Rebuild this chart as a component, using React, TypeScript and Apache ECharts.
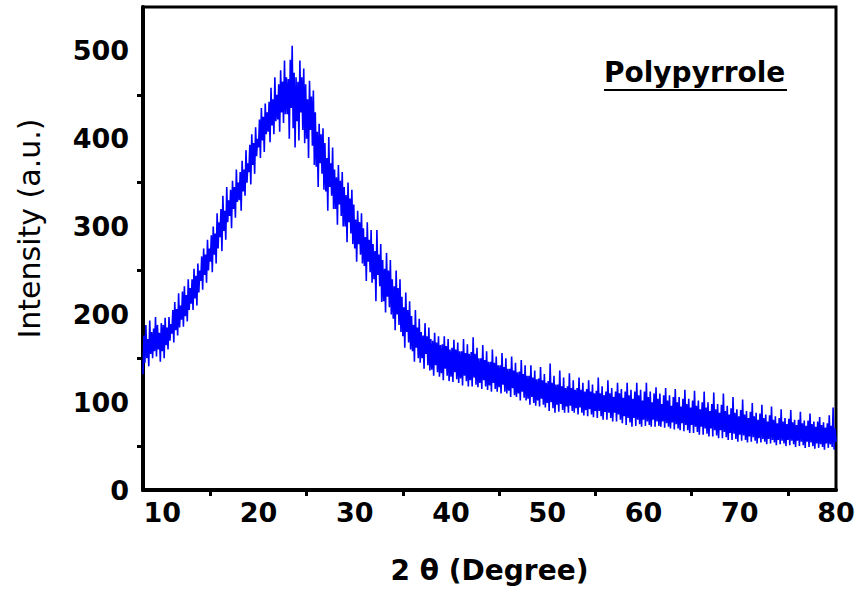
import React, { useEffect, useRef } from "react";
import * as echarts from "echarts";

// 2θ sampling grid (degrees)
const TWO_THETA_START = 8;
const TWO_THETA_STEP = 0.1;

// Intensity (a.u.), one row per degree (10 samples each)
const intensity = [
  132, 176, 145, 188, 150, 172, 141, 193, 155, 180,
  150, 184, 158, 197, 152, 188, 160, 179, 146, 190,
  158, 188, 150, 196, 165, 185, 160, 197, 170, 189,
  178, 205, 168, 214, 182, 206, 176, 224, 185, 210,
  194, 226, 186, 232, 198, 222, 192, 240, 205, 230,
  212, 240, 205, 252, 218, 244, 210, 258, 225, 250,
  238, 266, 228, 275, 245, 268, 236, 285, 250, 275,
  260, 290, 248, 300, 268, 292, 258, 315, 275, 305,
  288, 320, 272, 335, 295, 318, 285, 345, 305, 330,
  312, 342, 298, 352, 320, 345, 310, 365, 328, 350,
  330, 362, 318, 375, 340, 365, 335, 387, 350, 372,
  362, 393, 348, 405, 370, 395, 360, 413, 380, 400,
  390, 422, 378, 435, 398, 425, 385, 440, 405, 430,
  408, 442, 396, 458, 415, 445, 405, 470, 420, 450,
  422, 462, 408, 478, 430, 465, 418, 489, 428, 470,
  428, 468, 400, 490, 435, 506, 412, 475, 390, 470,
  420, 465, 398, 489, 430, 470, 410, 480, 395, 462,
  400, 445, 378, 466, 410, 448, 392, 455, 370, 430,
  368, 408, 345, 417, 372, 405, 360, 412, 342, 395,
  340, 378, 318, 402, 345, 372, 335, 390, 320, 365,
  320, 356, 302, 370, 325, 352, 312, 362, 300, 345,
  300, 336, 282, 350, 305, 332, 292, 342, 280, 325,
  275, 308, 260, 318, 280, 305, 268, 315, 258, 298,
  255, 288, 238, 305, 260, 285, 248, 296, 236, 280,
  240, 272, 215, 296, 245, 268, 232, 280, 214, 262,
  215, 252, 202, 270, 220, 250, 208, 262, 200, 240,
  195, 232, 182, 250, 200, 230, 188, 240, 180, 220,
  175, 208, 162, 225, 180, 205, 168, 215, 160, 198,
  158, 188, 146, 205, 162, 185, 150, 195, 145, 180,
  150, 176, 138, 190, 155, 175, 142, 185, 136, 172,
  137, 170, 130, 179, 142, 168, 134, 175, 129, 165,
  133, 166, 125, 175, 138, 164, 130, 172, 124, 160,
  129, 162, 123, 171, 134, 160, 126, 168, 122, 158,
  127, 158, 119, 172, 130, 156, 124, 166, 118, 155,
  125, 157, 118, 174, 128, 155, 120, 162, 117, 150,
  122, 150, 115, 165, 125, 148, 118, 158, 114, 146,
  119, 146, 112, 160, 122, 145, 115, 152, 112, 142,
  117, 142, 110, 156, 120, 140, 112, 150, 110, 138,
  113, 138, 106, 152, 116, 136, 108, 145, 106, 134,
  110, 135, 102, 148, 112, 132, 105, 142, 102, 130,
  104, 130, 97, 142, 106, 128, 99, 136, 96, 126,
  102, 127, 95, 140, 104, 125, 97, 132, 94, 122,
  99, 124, 90, 144, 100, 122, 93, 130, 88, 120,
  97, 120, 89, 136, 98, 118, 91, 128, 88, 116,
  95, 118, 88, 133, 96, 116, 90, 125, 88, 114,
  93, 116, 86, 128, 94, 114, 88, 122, 85, 112,
  91, 115, 84, 125, 92, 112, 86, 120, 83, 110,
  90, 113, 82, 128, 90, 110, 84, 118, 80, 108,
  89, 112, 80, 125, 88, 110, 82, 116, 78, 106,
  88, 112, 78, 122, 86, 110, 80, 115, 76, 105,
  84, 112, 74, 122, 82, 108, 77, 114, 72, 104,
  82, 112, 73, 122, 80, 108, 75, 114, 72, 102,
  80, 112, 73, 122, 78, 106, 74, 112, 72, 100,
  80, 110, 72, 117, 78, 104, 73, 110, 72, 98,
  78, 108, 71, 116, 76, 102, 72, 108, 70, 96,
  77, 106, 69, 115, 75, 100, 70, 106, 68, 95,
  76, 104, 67, 114, 74, 98, 68, 104, 65, 94,
  74, 102, 65, 113, 72, 96, 66, 102, 63, 92,
  72, 100, 63, 112, 70, 94, 64, 100, 61, 90,
  70, 98, 61, 111, 68, 92, 62, 98, 59, 88,
  68, 97, 59, 110, 66, 90, 60, 96, 57, 86,
  65, 93, 57, 106, 64, 88, 58, 92, 55, 84,
  63, 91, 56, 103, 62, 86, 57, 90, 54, 82,
  61, 89, 55, 99, 60, 84, 56, 88, 53, 80,
  59, 87, 54, 97, 58, 82, 55, 86, 52, 78,
  58, 85, 53, 95, 57, 80, 54, 84, 51, 76,
  57, 82, 52, 92, 56, 78, 53, 82, 50, 75,
  57, 81, 51, 91, 56, 77, 52, 80, 49, 74,
  56, 80, 50, 89, 55, 76, 51, 79, 48, 73,
  55, 79, 49, 87, 54, 75, 50, 78, 47, 72,
  53, 78, 48, 83, 52, 74, 49, 77, 46, 71,
  53, 76, 48, 85, 52, 73, 49, 94, 46, 70,
  55,
];

const xLabelValues = [10, 20, 30, 40, 50, 60, 70, 80];
const xTickValues = [15, 25, 35, 45, 55, 65, 75];
const yLabelValues = [0, 100, 200, 300, 400, 500];
const yTickValues = [50, 150, 250, 350, 450];

const X_MIN = 8;
const X_MAX = 80;
const Y_MIN = 0;
const Y_MAX = 550;

const SAMPLE_NAME = "Polypyrrole";
const X_TITLE = "2 θ (Degree)";
const Y_TITLE = "Intensity (a.u.)";

const FONT = "'DejaVu Sans', sans-serif";

export default function App() {
  const ref = useRef<HTMLDivElement>(null);

  useEffect(() => {
    document.body.style.margin = "0";
    if (!ref.current) return;
    const chart = echarts.init(ref.current, undefined, { renderer: "svg" });

    const points = intensity.map((v, i) => [
      +(TWO_THETA_START + i * TWO_THETA_STEP).toFixed(2),
      v,
    ]);

    chart.setOption({
      animation: false,
      backgroundColor: "#fff",
      grid: {
        left: 143,
        right: 24,
        top: 7,
        bottom: 103,
        show: true,
        borderColor: "#000",
        borderWidth: 3,
        backgroundColor: "transparent",
      },
      xAxis: {
        type: "value",
        min: X_MIN,
        max: X_MAX,
        name: X_TITLE,
        nameLocation: "middle",
        nameGap: 66,
        nameTextStyle: {
          fontFamily: FONT,
          fontWeight: "bold",
          fontSize: 28,
          color: "#000",
        },
        splitLine: { show: false },
        axisLine: { show: true, onZero: false, lineStyle: { color: "#000", width: 4 } },
        axisTick: {
          show: true,
          customValues: xTickValues,
          length: 6,
          lineStyle: { color: "#000", width: 3 },
        },
        axisLabel: {
          customValues: xLabelValues,
          margin: 9,
          fontFamily: FONT,
          fontWeight: "bold",
          fontSize: 27,
          color: "#000",
        },
      },
      yAxis: {
        type: "value",
        min: Y_MIN,
        max: Y_MAX,
        name: Y_TITLE,
        nameLocation: "middle",
        nameGap: 99,
        nameTextStyle: {
          fontFamily: FONT,
          fontSize: 30,
          color: "#000",
          padding: [0, 0, 0, 40],
        },
        splitLine: { show: false },
        axisLine: { show: true, onZero: false, lineStyle: { color: "#000", width: 4 } },
        axisTick: {
          show: true,
          customValues: yTickValues,
          length: 6,
          lineStyle: { color: "#000", width: 3 },
        },
        axisLabel: {
          customValues: yLabelValues,
          margin: 14,
          fontFamily: FONT,
          fontWeight: "bold",
          fontSize: 27,
          color: "#000",
        },
      },
      graphic: [
        {
          type: "text",
          left: 604,
          top: 58,
          style: {
            text: SAMPLE_NAME,
            fontFamily: FONT,
            fontWeight: "bold",
            fontSize: 28,
            fill: "#000",
          },
        },
        {
          type: "line",
          shape: { x1: 604, y1: 90, x2: 787, y2: 90 },
          style: { stroke: "#000", lineWidth: 2 },
        },
      ],
      series: [
        {
          type: "line",
          data: points,
          showSymbol: false,
          symbol: "none",
          lineStyle: { color: "#0000ff", width: 1.6 },
          itemStyle: { color: "#0000ff" },
          clip: true,
          z: 1,
        },
      ],
    });

    return () => chart.dispose();
  }, []);

  return <div ref={ref} style={{ width: 860, height: 593 }} />;
}
